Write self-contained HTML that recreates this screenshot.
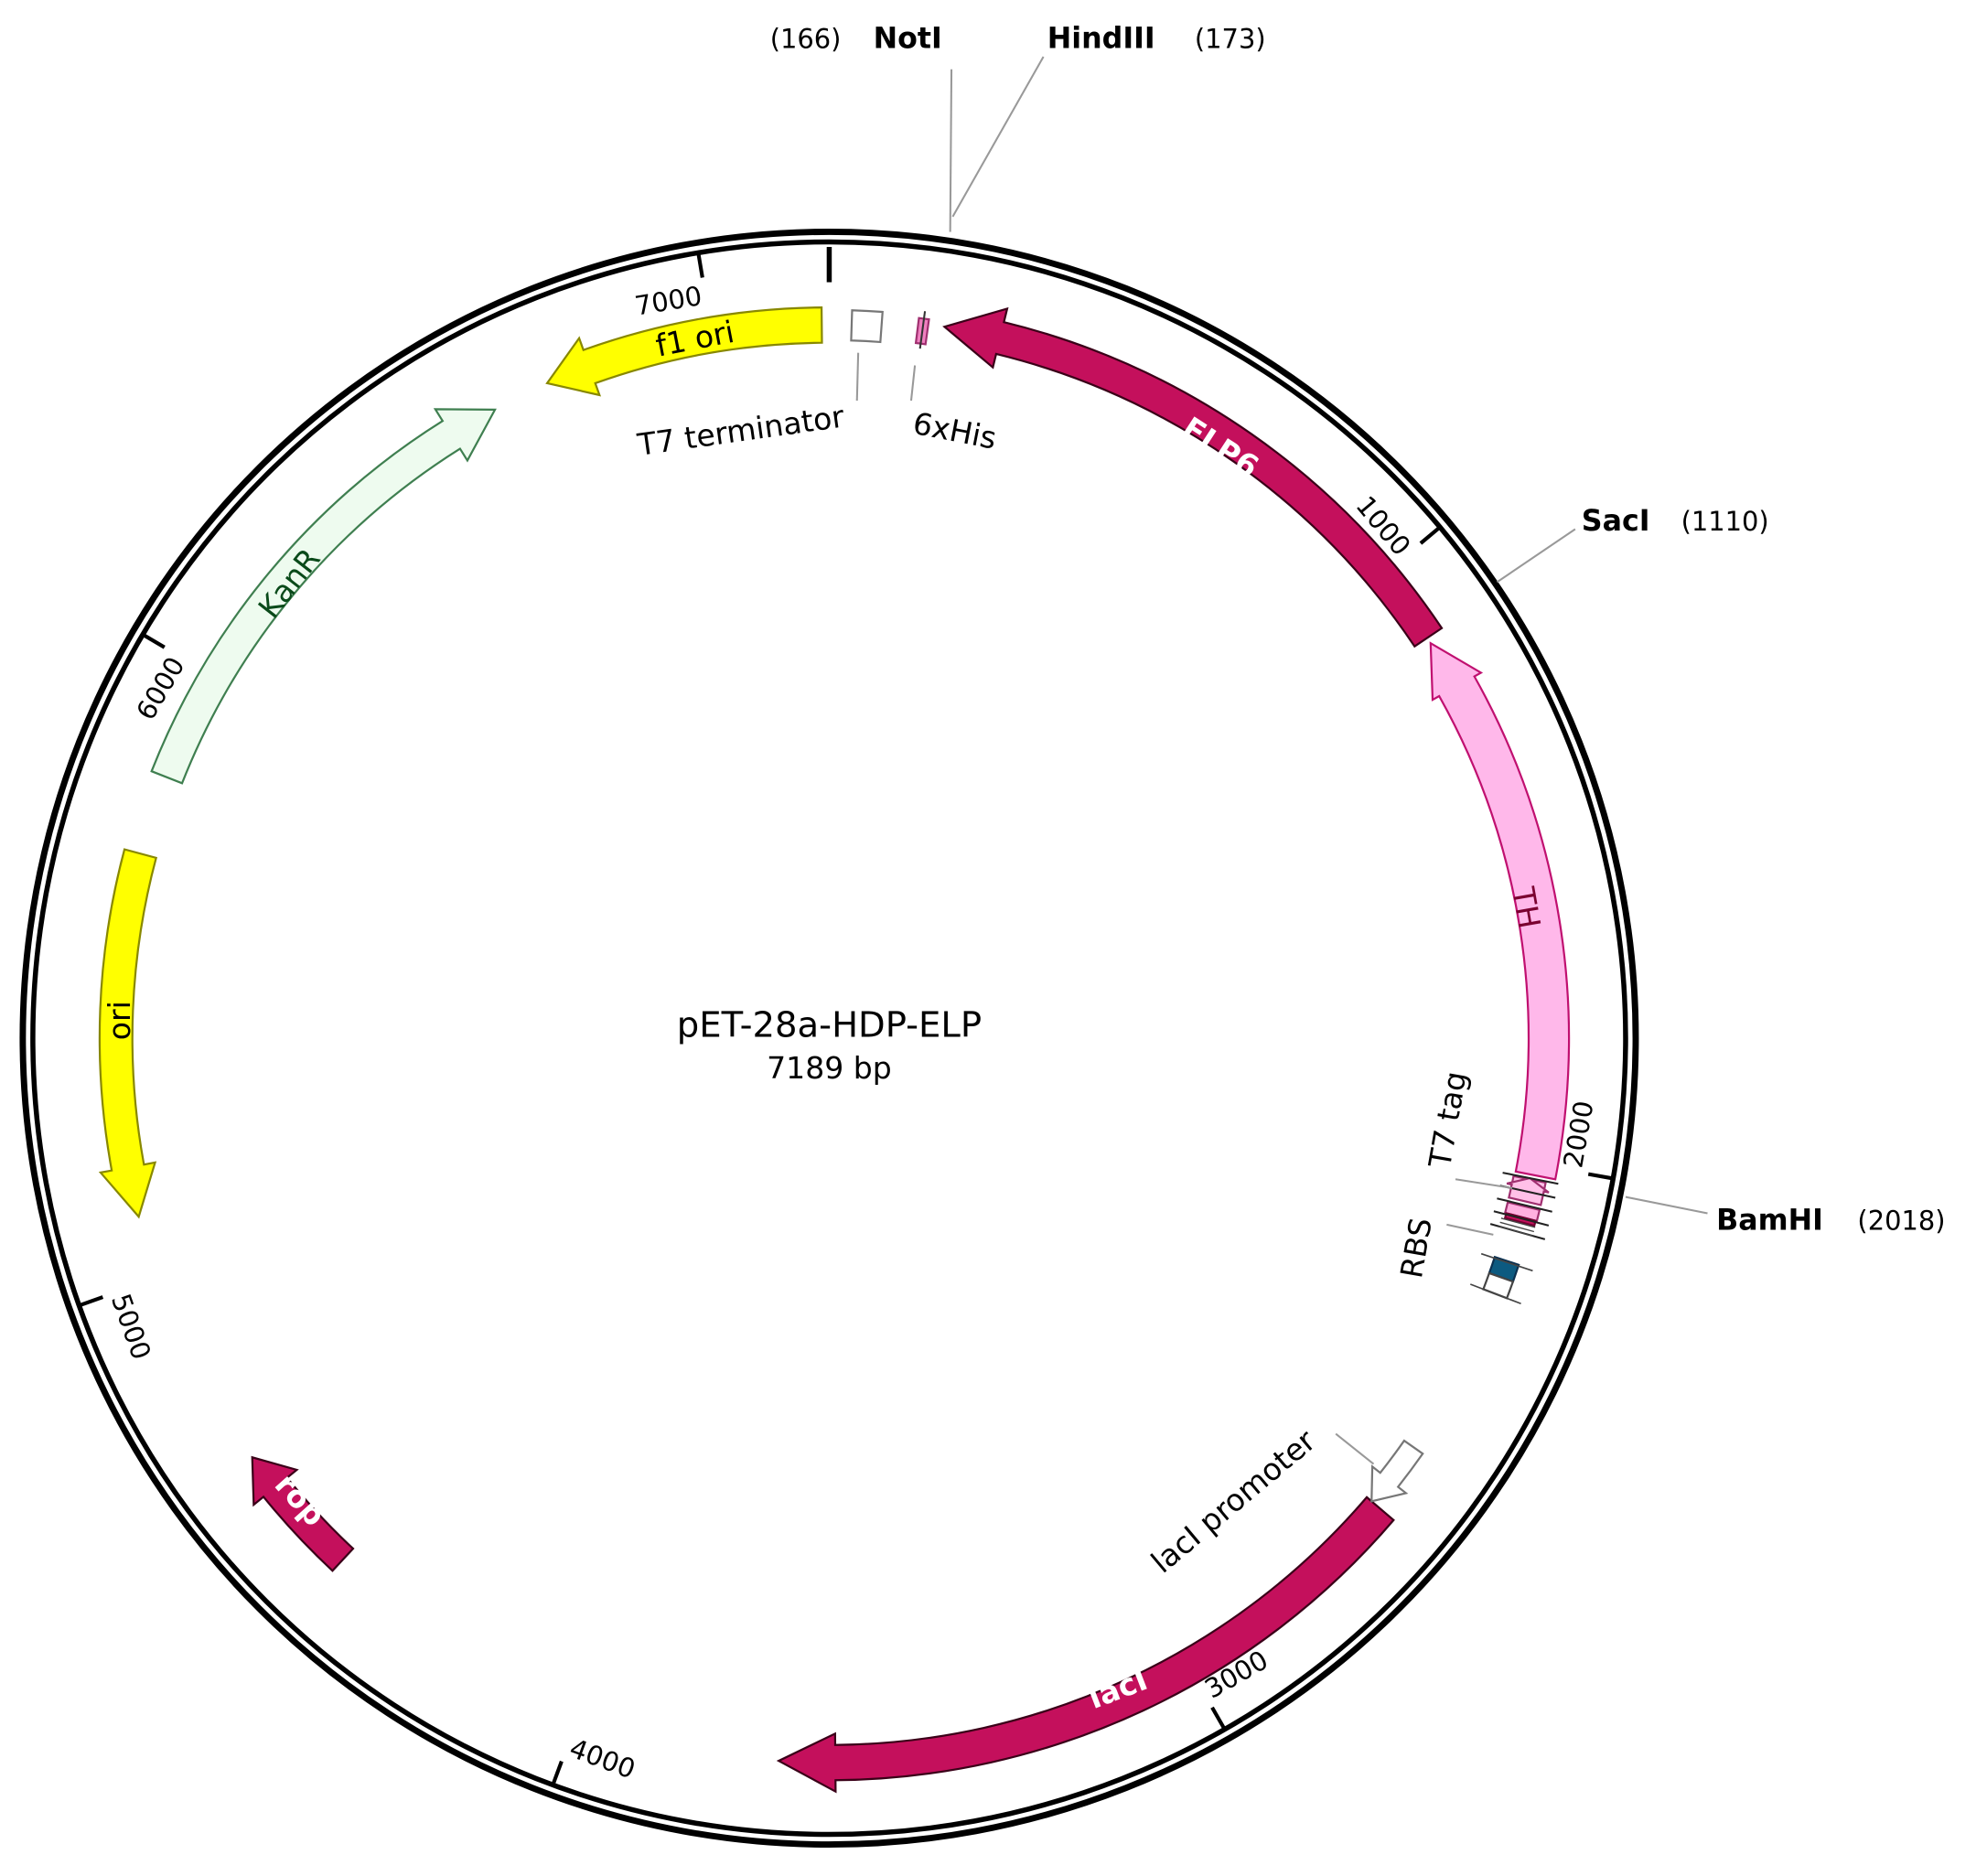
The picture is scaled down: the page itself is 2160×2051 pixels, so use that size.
<!DOCTYPE html>
<html><head><meta charset="utf-8"><style>
html,body{margin:0;padding:0;background:#fff;}
svg{display:block;}
text{font-family:"DejaVu Sans","Liberation Sans",sans-serif;}
</style></head><body>
<svg id="s" width="2160" height="2051" viewBox="0 0 1568 1489" xmlns="http://www.w3.org/2000/svg">
<rect width="1568" height="1489" fill="#fff"/>
<circle cx="658" cy="824" r="640" fill="none" stroke="#000" stroke-width="5"/>
<circle cx="658" cy="824" r="632" fill="none" stroke="#000" stroke-width="4"/>
<line x1="658" y1="196" x2="658" y2="224" stroke="#000" stroke-width="4"/>
<g id="feat"></g>
<g id="ticks"></g>
<g stroke="#999" stroke-width="1.5" fill="none">
<line x1="754" y1="184" x2="755" y2="55"/>
<line x1="756" y1="172" x2="828" y2="45"/>
<line x1="1188" y1="462" x2="1250" y2="420"/>
<line x1="1290" y1="950" x2="1355" y2="963"/>
<line x1="681" y1="280" x2="680" y2="318"/>
<line x1="726" y1="290" x2="723" y2="318"/>
<line x1="1060" y1="1138" x2="1090" y2="1162"/>
<line x1="1155" y1="936" x2="1200" y2="943"/>
<line x1="1148" y1="972" x2="1185" y2="980"/>
</g>
<g font-size="23" fill="#000">
<text x="611" y="38" font-size="21">(166)</text>
<text x="693" y="38" font-weight="bold">NotI</text>
<text x="831" y="38" font-weight="bold">HindIII</text>
<text x="948" y="38" font-size="21">(173)</text>
<text x="1255" y="421" font-weight="bold">SacI</text>
<text x="1334" y="421" font-size="21">(1110)</text>
<text x="1362" y="976" font-weight="bold">BamHI</text>
<text x="1474" y="976" font-size="21">(2018)</text>
</g>
<text x="658" y="823" font-size="28" text-anchor="middle">pET-28a-HDP-ELP</text>
<text x="658" y="856" font-size="24" text-anchor="middle">7189 bp</text>
<g font-size="24">
<text transform="translate(553,277) rotate(-11)" text-anchor="middle">f1 ori</text>
<text transform="translate(236,468) rotate(-52)" text-anchor="middle" fill="#0a4a1a">KanR</text>
<text transform="translate(103,810) rotate(-90)" text-anchor="middle">ori</text>
<text transform="translate(964,362) rotate(33)" text-anchor="middle" fill="#fff" font-weight="bold">ELP6</text>
<text transform="translate(1203,722) rotate(80)" text-anchor="middle" fill="#7a0030">TH</text>
<text transform="translate(890,1348) rotate(-21)" text-anchor="middle" fill="#fff" font-weight="bold">lacI</text>
<text transform="translate(232,1196) rotate(48)" text-anchor="middle" fill="#fff" font-weight="bold">rop</text>
<text transform="translate(589,350) rotate(-8)" text-anchor="middle">T7 terminator</text>
<text transform="translate(756,350) rotate(11)" text-anchor="middle">6xHis</text>
<text transform="translate(984,1198) rotate(-40)" text-anchor="middle">lacI promoter</text>
<text transform="translate(1157,890) rotate(-80)" text-anchor="middle">T7 tag</text>
<text transform="translate(1132,992) rotate(-80)" text-anchor="middle">RBS</text>
</g>
<script>
var cx=658,cy=824,R=Math.PI/180;
function P(a,r){return [cx+r*Math.sin(a*R),cy-r*Math.cos(a*R)];}
function f(p){return p[0].toFixed(2)+","+p[1].toFixed(2);}
var feat=document.getElementById("feat"),ns="http://www.w3.org/2000/svg";
function add(g,tag,attrs){var e=document.createElementNS(ns,tag);for(var k in attrs)e.setAttribute(k,attrs[k]);g.appendChild(e);return e;}
function arrow(t,h,r,w,hw,hl,fill,stroke){
 var dir=h>t?1:-1, hd=hl/r/R, b=h-dir*hd;
 var sw=dir>0?1:0, sw2=dir>0?0:1;
 var large=Math.abs(b-t)>180?1:0;
 var d="M"+f(P(t,r+w/2))+" A"+(r+w/2)+","+(r+w/2)+" 0 "+large+" "+sw+" "+f(P(b,r+w/2))+
 " L"+f(P(b,r+hw/2))+" L"+f(P(h,r))+" L"+f(P(b,r-hw/2))+" L"+f(P(b,r-w/2))+
 " A"+(r-w/2)+","+(r-w/2)+" 0 "+large+" "+sw2+" "+f(P(t,r-w/2))+" Z";
 add(feat,"path",{d:d,fill:fill,stroke:stroke,"stroke-width":1.6,"stroke-linejoin":"miter"});
}
function box(a1,a2,r,w,fill,stroke){
 var d="M"+f(P(a1,r+w/2))+" A"+(r+w/2)+","+(r+w/2)+" 0 0 1 "+f(P(a2,r+w/2))+" L"+f(P(a2,r-w/2))+" A"+(r-w/2)+","+(r-w/2)+" 0 0 0 "+f(P(a1,r-w/2))+" Z";
 add(feat,"path",{d:d,fill:fill,stroke:stroke,"stroke-width":1.6});
}
function rl(a,r1,r2,c,sw){var p=P(a,r1),q=P(a,r2);add(feat,"line",{x1:p[0],y1:p[1],x2:q[0],y2:q[1],stroke:c,"stroke-width":sw});}
var mag="#c4105c",dk="#3a0018";
arrow(56.2,9.2,572,26,48,45,mag,dk);
arrow(-0.6,-23.3,566,28,48,36,"#ffff00","#888800");
arrow(-68.5,-28,565,26,48,40,"#eefbef","#3f7f50");
arrow(-75,-104.5,566,26,44,40,"#ffff00","#888800");
arrow(101,56.7,571,32,44,40,"#ffb8ea","#c01070");
arrow(130.5,184,575,28,46,45,mag,dk);
arrow(125,130.5,566,18,34,22,"#fff","#777");
arrow(223,234,566,24,44,30,mag,dk);
box(1.8,4.2,566,24,"#fff","#777");
box(7.1,7.9,566,20,"#f080c0","#a03070");
rl(7.5,552,582,"#333",1.5);
box(101.4,102.3,567,26,"#ffc0e8","#a03070");
arrow(103.2,101.3,567,26,34,8,"#ffc0e8","#a03070");
box(103.6,104.5,567,26,"#ffb0e0","#a03070");
box(104.5,104.9,567,24,"#c4105c","#700030");
for(var a=101.3;a<=106;a+=1.1)rl(a,545,590,"#222",1.5);
for(var a=105;a<=106;a+=0.35)rl(a,552,580,"#444",1);
box(108.2,109.6,566,20,"#0c5a80","#0a3050");
box(109.6,111,566,20,"#fff","#444");
rl(108.3,545,588,"#444",1.2);rl(111,545,588,"#444",1.2);
var tg=document.getElementById("ticks");
for(var k=1;k<=7;k++){
 var a=k*1000/7189*360; rl(a,632,612,"#000",3);
 var p=P(a,609),t=document.createElementNS(ns,"text");
 t.textContent=(k*1000)+"";t.setAttribute("font-size","21");
 if(a>90&&a<270){t.setAttribute("transform","translate("+p[0]+","+p[1]+") rotate("+(a-180)+")");t.setAttribute("x","3");t.setAttribute("y","-3");t.setAttribute("text-anchor","start");}
 else{t.setAttribute("transform","translate("+p[0]+","+p[1]+") rotate("+a+")");t.setAttribute("x","-3");t.setAttribute("y","18");t.setAttribute("text-anchor","end");}
 tg.appendChild(t);
}
</script>
</svg>
</body></html>
